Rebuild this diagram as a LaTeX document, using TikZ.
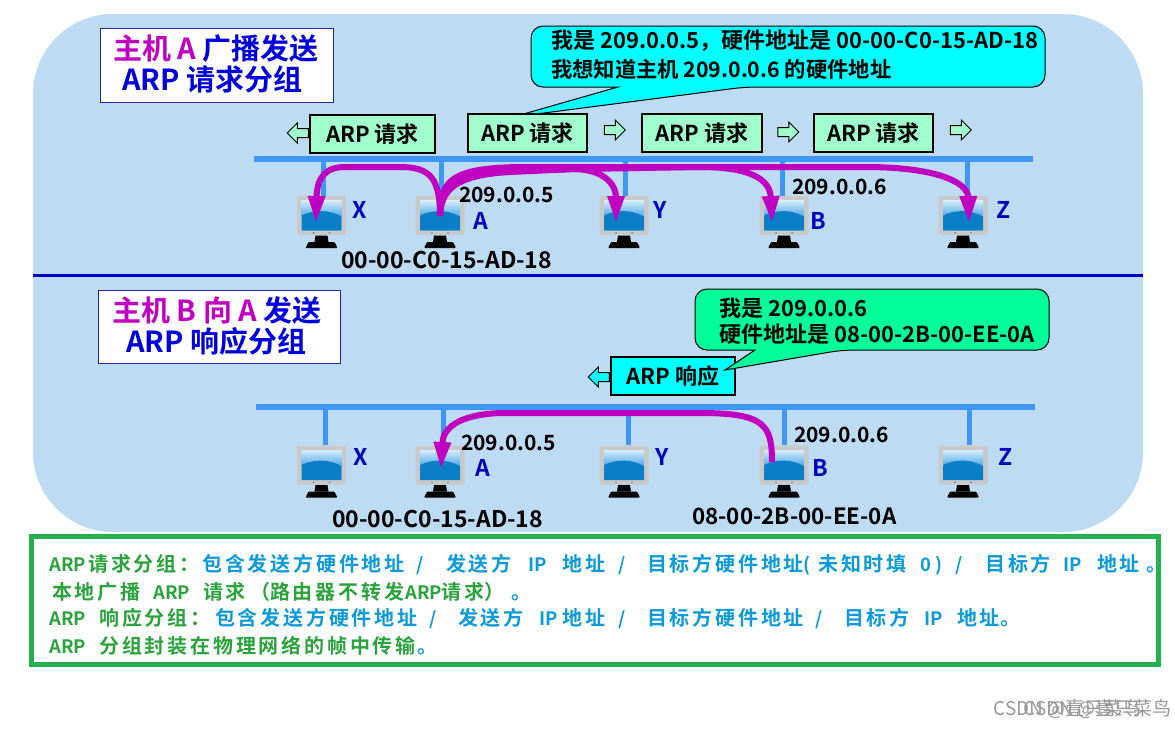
\documentclass[tikz,border=0pt]{standalone}
\usepackage{fontspec}
\setmainfont{Noto Sans CJK SC}[BoldFont={Noto Sans CJK SC Bold}]
\newfontfamily\spacedcjk[LetterSpace=14]{Noto Sans CJK SC Bold}
\newfontfamily\plainlat{Noto Sans CJK SC Bold}
\usetikzlibrary{arrows.meta,shapes.arrows,calc}
\definecolor{bgblue}{HTML}{BDDBF2}
\definecolor{linkblue}{HTML}{3F96F5}
\definecolor{mag}{HTML}{C000C0}
\definecolor{tblue}{HTML}{0000DD}
\definecolor{pktgreen}{HTML}{A0FFCC}
\definecolor{callcyan}{HTML}{00FFFF}
\definecolor{callgreen}{HTML}{00FF99}
\definecolor{boxgreen}{HTML}{22B14C}
\definecolor{notegreen}{HTML}{2AA33C}
\definecolor{noteblue}{HTML}{0C9ADB}
\definecolor{wmgray}{HTML}{9A9A9A}
\definecolor{skytop}{HTML}{4FA8E6}
\definecolor{skybot}{HTML}{D5EDFB}
\definecolor{seablue}{HTML}{0A7FC8}
\newcommand{\ncj}[2]{\rlap{\hspace{\dimexpr#1pt-49pt\relax}{\spacedcjk #2}}}
\newcommand{\nlat}[2]{\rlap{\hspace{\dimexpr#1pt-49pt\relax}{\plainlat\fontsize{18.5}{22}\selectfont #2}}}
\newcommand{\nline}[1]{\makebox[1106pt][l]{#1}}
\tikzset{
  bus/.style={line width=6pt,draw=linkblue},
  dropline/.style={line width=5pt,draw=linkblue},
  pkt/.style={draw=black,line width=2pt,fill=pktgreen,inner sep=0pt,font=\fontsize{22}{26}\bfseries\selectfont},
  resp/.style={pkt,fill=callcyan},
  titlebox/.style={draw=black!30!blue!70!gray,line width=1pt,fill=white,inner sep=0pt},
  ttl/.style={anchor=west,inner sep=0pt,font=\fontsize{29}{34}\bfseries\selectfont,text=tblue},
  lbl/.style={anchor=west,inner sep=0pt,font=\fontsize{21}{25}\bfseries\selectfont,text=black},
  lblwide/.style={lbl,font=\fontsize{23}{27}\bfseries\selectfont},
  calltext/.style={lbl,font=\fontsize{22}{26}\bfseries\selectfont},
  calltextb/.style={lbl,font=\fontsize{21.3}{26}\bfseries\selectfont},
  letter/.style={anchor=center,inner sep=0pt,font=\fontsize{23}{27}\bfseries\selectfont,text=tblue!85!black},
  note/.style={anchor=west,inner sep=0pt,font=\fontsize{20}{24}\selectfont,text=notegreen},
  cast/.style={draw=mag,line width=6pt,-{Stealth[length=27pt,width=16pt,inset=0pt]}},
  flowarrow/.style={single arrow,draw=black,line width=1pt,fill=pktgreen,inner sep=0pt,minimum height=21pt,minimum width=19pt,single arrow head extend=5.5pt,single arrow head indent=0pt},
  flowleft/.style={flowarrow,shape border rotate=180},
  pics/monitor/.style={code={
    \node[draw=none,fill=black!21,rounded corners=2pt,minimum width=49pt,minimum height=39pt,inner sep=0pt] (-frame) at (0,0) {};
    \fill[skybot] (-20,-15) rectangle (20,15);
    \shade[bottom color=skytop,top color=skybot] (-20,-15) rectangle (20,1);
    \fill[seablue] (-20,15) -- (-20,0) .. controls (-8,-6) and (8,-6) .. (20,1) -- (20,15) -- cycle;
    \fill[black] (-6,20) -- (6,20) -- (7,26.5) -- (-7,26.5) -- cycle;
    \fill[black,rounded corners=1pt] (-16,32.5) -- (-13,26.5) -- (13,26.5) -- (16,32.5) -- cycle;
    \fill[black!60] (-8,17.3) circle (.8) (8,17.3) circle (.8);
  }}
}
\begin{document}
\begin{tikzpicture}[x=1pt,y=-1pt]
\useasboundingbox (0,0) rectangle (1175,729);
\fill[white] (0,0) rectangle (1175,729);
\fill[bgblue,rounded corners=80pt] (33,14) rectangle (1143,532);
% divider
\coordinate (divL) at (33,275);
\coordinate (divR) at (1143,275);
\draw[line width=3pt,draw=tblue!90!black] (divL) -- (divR);
% titles
\node[titlebox,minimum width=233pt,minimum height=74pt] (t1) at (216.5,65) {};
\node[ttl] (t1a) at (113,49) {\textcolor{mag}{主机 A} 广播发送};
\node[ttl] (t1b) at (122,79) {ARP 请求分组};
\node[titlebox,minimum width=242pt,minimum height=73pt] (t2) at (219,326.5) {};
\node[ttl] (t2a) at (112,310) {\textcolor{mag}{主机 B 向 A} 发送};
\node[ttl] (t2b) at (126,341) {ARP 响应分组};
% buses
\coordinate (b1L) at (254,159); \coordinate (b1R) at (1033,159);
\coordinate (b2L) at (256,407); \coordinate (b2R) at (1035,407);
\draw[bus] (b1L) -- (b1R);
\draw[bus] (b2L) -- (b2R);
% monitors
\pic (mX1) at (321.5,215.5) {monitor};
\pic (mA1) at (440,215.5) {monitor};
\pic (mY1) at (624,215.5) {monitor};
\pic (mB1) at (784,215.5) {monitor};
\pic (mZ1) at (963,215.5) {monitor};
\pic (mX2) at (321.5,465) {monitor};
\pic (mA2) at (440,465) {monitor};
\pic (mY2) at (624,465) {monitor};
\pic (mB2) at (784,465) {monitor};
\pic (mZ2) at (963,465) {monitor};
% drops
\foreach \n/\x in {X/323,A/441,Y/625,B/782,Z/967}{
  \coordinate (d\n1) at (\x,159);
  \draw[dropline] (d\n1) -- (d\n1 |- m\n1-frame.north);
}
\foreach \n/\x in {X/325,A/443,Y/628,B/784,Z/969}{
  \coordinate (d\n2) at (\x,407);
  \draw[dropline] (d\n2) -- (d\n2 |- m\n2-frame.north);
}
% callouts
\coordinate (tip1) at (513,117);
\coordinate (tip2) at (725,370);
\draw[draw=black,line width=1pt,fill=callcyan,rounded corners=12pt]
  (531,26) -- (1045,26) -- (1045,87) -- (745,87) [sharp corners] -- (tip1) -- (618,87) [rounded corners=12pt] -- (531,87) -- cycle;
% packets
\node[flowleft] (a1) at (300,133) {\rule{0pt}{8pt}};
\node[pkt,minimum width=125pt,minimum height=38pt] (p1) at (372.5,134) {ARP 请求};
\node[pkt,minimum width=119pt,minimum height=38pt] (p2) at (527.5,133) {ARP 请求};
\node[pkt,minimum width=120pt,minimum height=38pt] (p3) at (702,133) {ARP 请求};
\node[pkt,minimum width=119pt,minimum height=38pt] (p4) at (873.5,133) {ARP 请求};
\node[flowarrow] (a2) at (612.5,130) {\rule{0pt}{8pt}};
\node[flowarrow] (a3) at (786,132) {\rule{0pt}{8pt}};
\node[flowarrow] (a4) at (958.5,130) {\rule{0pt}{8pt}};
\node[calltext] (c1a) at (551,41) {我是 209.0.0.5，硬件地址是 00-00-C0-15-AD-18};
\node[calltextb] (c1b) at (551,69) {我想知道主机 209.0.0.6 的硬件地址};
% response
\node[flowleft,fill=callcyan] (a5) at (601,377) {\rule{0pt}{8pt}};
\node[resp,minimum width=124pt,minimum height=38pt] (r1) at (673,376) {ARP 响应};
\draw[draw=black,line width=1pt,fill=callgreen,rounded corners=12pt]
  (695,289) -- (1049,289) -- (1049,350) -- (842,350) [sharp corners] -- (tip2) -- (755,350) [rounded corners=12pt] -- (695,350) -- cycle;
\node[calltext] (c2a) at (719,308) {我是 209.0.0.6};
\node[calltext] (c2b) at (719,334) {硬件地址是 08-00-2B-00-EE-0A};
% broadcast arrows
\coordinate (srcA) at (440,216);
\coordinate (tipX) at (316,223);
\coordinate (tipY) at (616,223);
\coordinate (tipB) at (772,223);
\coordinate (tipZ) at (969,223);
\draw[cast] (srcA) .. controls (440,178) and (430,167) .. (400,167) -- (345,167) .. controls (325,167) and (317,178) .. (tipX);
\draw[cast] (srcA) .. controls (441,190) and (455,175) .. (510,172) -- (575,169) .. controls (605,170) and (616,185) .. (tipY);
\draw[cast] (srcA) .. controls (440,185) and (458,172) .. (520,170) -- (700,167) .. controls (752,167) and (770,180) .. (tipB);
\draw[cast] (srcA) .. controls (440,180) and (452,168) .. (520,167) -- (870,167) .. controls (945,168) and (968,185) .. (tipZ);
\coordinate (srcB) at (772,462);
\coordinate (tipA) at (441,469);
\draw[cast] (srcB) .. controls (772,425) and (765,413) .. (700,413) -- (500,413) .. controls (455,415) and (443,430) .. (tipA);
% labels top
\node[lbl] (ip1) at (459,195) {209.0.0.5};
\node[lbl] (ip2) at (792,187) {209.0.0.6};
\node[lblwide] (mac1) at (341,260) {00-00-C0-15-AD-18};
\node[letter] (lX) at (360,210) {X};
\node[letter] (lA) at (481,221) {A};
\node[letter] (lY) at (660,210) {Y};
\node[letter] (lB) at (818,221) {B};
\node[letter] (lZ) at (1004,210) {Z};
% labels bottom
\node[lbl] (ip3) at (461,443) {209.0.0.5};
\node[lbl] (ip4) at (794,435) {209.0.0.6};
\node[lblwide] (mac2) at (332,519) {00-00-C0-15-AD-18};
\node[lbl,font=\fontsize{22.4}{27}\bfseries\selectfont] (mac3) at (692,516) {08-00-2B-00-EE-0A};
\node[letter] (lX2) at (361,457) {X};
\node[letter] (lA2) at (483,468) {A};
\node[letter] (lY2) at (662,457) {Y};
\node[letter] (lB2) at (820,468) {B};
\node[letter] (lZ2) at (1006,457) {Z};
% note
\node[draw=boxgreen,line width=5pt,fill=white,minimum width=1127.5pt,minimum height=128pt,inner sep=0pt] (noteb) at (594.75,600.5) {};
\node[note] (n1) at (49,565) {\nline{\nlat{49}{ARP}\ncj{88}{请求分组：}\color{noteblue}\ncj{202}{包含发送方硬件地址}\nlat{416}{/}\ncj{446}{发送方}\nlat{528}{IP}\ncj{562}{地址}\nlat{618}{/}\ncj{647}{目标方硬件地址}\nlat{803}{(}\ncj{818}{未知时填}\nlat{920}{0}\nlat{935}{)}\nlat{955}{/}\ncj{985}{目标方}\nlat{1063}{IP}\ncj{1097}{地址}\ncj{1146}{。}}};
\node[note] (n2) at (49,592) {\nline{\ncj{52}{本地广播}\nlat{153}{ARP}\ncj{203}{请求}\ncj{250}{（}\ncj{270}{路由器不转发}\nlat{405}{ARP}\ncj{441}{请求}\ncj{484}{）}\color{noteblue}\ncj{511}{。}}};
\node[note] (n3) at (49,619) {\nline{\nlat{49}{ARP}\ncj{99}{响应分组：}\color{noteblue}\ncj{215}{包含发送方硬件地址}\nlat{429}{/}\ncj{458}{发送方}\nlat{539}{IP}\ncj{562}{地址}\nlat{618}{/}\ncj{647}{目标方硬件地址}\nlat{815}{/}\ncj{844}{目标方}\nlat{924}{IP}\ncj{957}{地址}\ncj{1000}{。}}};
\node[note] (n4) at (49,646) {\nline{\nlat{49}{ARP}\ncj{99}{分组封装在物理网络的帧中传输}\color{noteblue}\ncj{417}{。}}};
% watermark
\node[anchor=east,inner sep=0pt,font=\fontsize{19}{23}\selectfont,text=wmgray] (w1) at (1142,709) {CSDN @壹只菜鸟};
\node[anchor=east,inner sep=0pt,font=\fontsize{19}{23}\selectfont,text=wmgray] (w2) at (1172,709) {CSDN @壹只菜鸟};
\end{tikzpicture}
\end{document}
